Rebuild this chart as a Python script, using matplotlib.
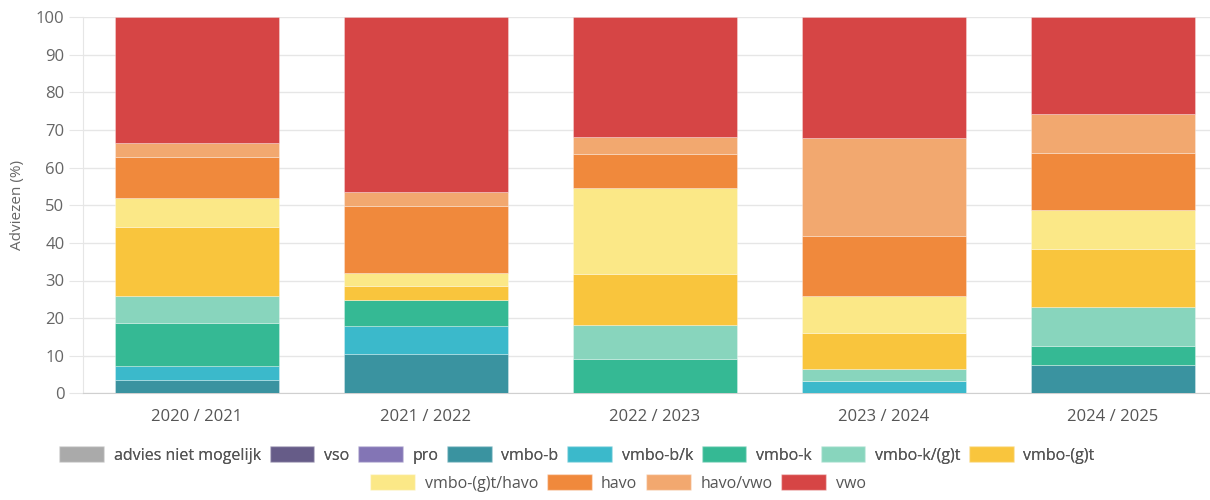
import matplotlib
matplotlib.use("Agg")
import matplotlib.pyplot as plt
import numpy as np
from matplotlib.patches import Patch

plt.rcParams['font.family'] = ['Open Sans', 'DejaVu Sans']

years = ['2020 / 2021', '2021 / 2022', '2022 / 2023', '2023 / 2024', '2024 / 2025']
categories = ['advies niet mogelijk', 'vso', 'pro', 'vmbo-b', 'vmbo-b/k', 'vmbo-k',
              'vmbo-k/(g)t', 'vmbo-(g)t', 'vmbo-(g)t/havo', 'havo', 'havo/vwo', 'vwo']
colors = ['#aaaaaa', '#665c88', '#8375b5', '#3a93a0', '#3bb9cb', '#35b994',
          '#88d5bd', '#f9c53d', '#fbe887', '#f0893c', '#f2a86f', '#d64545']

# percentages per year
advies_niet = [0, 0, 0, 0, 0]
vso = [0, 0, 0, 0, 0]
pro = [0, 0, 0, 0, 0]
vmbo_b = [3.5, 10.5, 0, 0, 7.5]
vmbo_bk = [3.8, 7.3, 0, 3.3, 0]
vmbo_k = [11.3, 7.1, 9.0, 0, 5.2]
vmbo_kgt = [7.3, 0, 9.2, 3.1, 10.3]
vmbo_gt = [18.4, 3.6, 13.4, 9.7, 15.5]
vmbo_gt_havo = [7.6, 3.6, 22.9, 9.8, 10.2]
havo = [11.0, 17.8, 9.1, 15.9, 15.3]
havo_vwo = [3.7, 3.6, 4.6, 26.0, 10.3]
vwo = [33.4, 46.5, 31.8, 32.2, 25.7]

series = [advies_niet, vso, pro, vmbo_b, vmbo_bk, vmbo_k, vmbo_kgt,
          vmbo_gt, vmbo_gt_havo, havo, havo_vwo, vwo]

fig = plt.figure(figsize=(12.1, 5.0), dpi=100)
ax = fig.add_axes([82.5 / 1210, (500 - 393.3) / 500, 1145 / 1210, 376 / 500])

x = np.arange(len(years))
bottom = np.zeros(len(years))
for vals, col in zip(series, colors):
    vals = np.array(vals, dtype=float)
    ax.bar(x, vals, bottom=bottom, width=0.72, color=col,
           edgecolor=(1, 1, 1, 0.35), linewidth=0.6, zorder=3)
    bottom += vals

ax.set_xlim(-0.5, len(years) - 0.5)
ax.set_ylim(0, 100)
ax.set_yticks(range(0, 101, 10))
ax.set_xticks(x)
ax.set_xticklabels(years)
ax.grid(axis='y', color='#e6e6e6', linewidth=1, zorder=0)
for s in ['top', 'right']:
    ax.spines[s].set_visible(False)
ax.spines['left'].set_color('#e6e6e6')
ax.spines['bottom'].set_color('#d0d0d0')
ax.tick_params(axis='y', length=10, color='#e6e6e6', labelcolor='#666666',
               labelsize=12, pad=3)
ax.tick_params(axis='x', length=0, labelcolor='#555555', labelsize=12, pad=11)
ax.set_ylabel('Adviezen (%)', color='#666666', fontsize=11, labelpad=8)

handles = [Patch(facecolor=c, edgecolor=(1, 1, 1, 0.4)) for c in colors]
leg_kw = dict(loc='center', frameon=False, handlelength=2.8, handleheight=1.15,
              handletextpad=0.6, columnspacing=0.55, fontsize=11.5,
              labelcolor='#555555', borderpad=0, borderaxespad=0)
leg1 = fig.legend(handles[:8], categories[:8], ncol=8,
                  bbox_to_anchor=(577 / 1210, 1 - 455 / 500), **leg_kw)
leg2 = fig.legend(handles[8:], categories[8:], ncol=4,
                  bbox_to_anchor=(618 / 1210, 1 - 483 / 500), **leg_kw)
fig.add_artist(leg1)

fig.savefig('out.png', dpi=100)
